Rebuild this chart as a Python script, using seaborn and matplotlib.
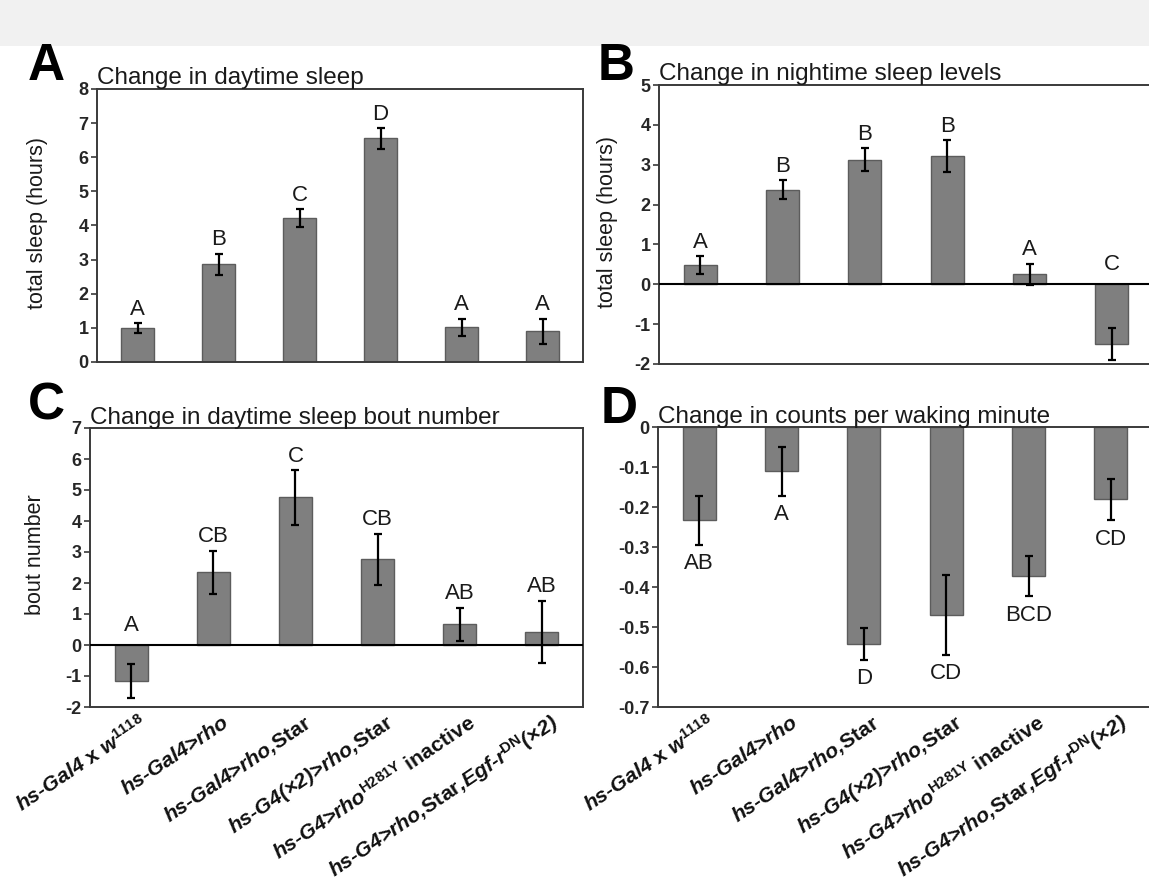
import matplotlib
matplotlib.use("Agg")
import matplotlib.pyplot as plt
import matplotlib.transforms as mtransforms
from matplotlib.patches import Rectangle
import seaborn as sns
import pandas as pd

# ---- data -------------------------------------------------------------
genotypes = [
    "hs-Gal4 x w1118",
    "hs-Gal4>rho",
    "hs-Gal4>rho,Star",
    "hs-G4(x2)>rho,Star",
    "hs-G4>rhoH281Y inactive",
    "hs-G4>rho,Star,Egf-rDN(x2)",
]
tick_labels = [
    r"hs-Gal4 $\mathrm{x}$ w$^{\mathit{1118}}$",
    r"hs-Gal4>rho",
    r"hs-Gal4>rho,$\mathrm{Star}$",
    r"hs-G4(×2)>rho,$\mathrm{Star}$",
    r"hs-G4>rho$^{\mathrm{H281Y}}$ $\mathrm{inactive}$",
    r"hs-G4>rho,$\mathrm{Star}$,Egf-r$^{\mathrm{DN}}$(×2)",
]

day_sleep = [1.00, 2.86, 4.22, 6.55, 1.02, 0.90]
day_sleep_err = [0.14, 0.31, 0.25, 0.30, 0.25, 0.37]
day_sleep_groups = ["A", "B", "C", "D", "A", "A"]

night_sleep = [0.48, 2.37, 3.13, 3.21, 0.25, -1.50]
night_sleep_err = [0.23, 0.24, 0.28, 0.40, 0.27, 0.40]
night_sleep_groups = ["A", "B", "B", "B", "A", "C"]

bout_number = [-1.16, 2.34, 4.76, 2.77, 0.67, 0.43]
bout_number_err = [0.54, 0.70, 0.89, 0.82, 0.53, 1.00]
bout_number_groups = ["A", "CB", "C", "CB", "AB", "AB"]

waking_counts = [-0.233, -0.111, -0.542, -0.470, -0.373, -0.181]
waking_counts_err = [0.061, 0.061, 0.040, 0.100, 0.050, 0.052]
waking_counts_groups = ["AB", "A", "D", "CD", "BCD", "CD"]

# ---- style ------------------------------------------------------------
sns.set_theme(style="white")
plt.rcParams["font.family"] = ["Liberation Sans", "DejaVu Sans"]
plt.rcParams["axes.unicode_minus"] = False
plt.rcParams["mathtext.fontset"] = "custom"
plt.rcParams["mathtext.rm"] = "Liberation Sans:bold"
plt.rcParams["mathtext.it"] = "Liberation Sans:italic:bold"
plt.rcParams["mathtext.bf"] = "Liberation Sans:bold"

BAR_COLOR = "#7f7f7f"
EDGE_COLOR = "#5c5c5c"
FRAME_COLOR = "#3a3a3a"
TEXT_COLOR = "#1a1a1a"

W, H = 1149, 882
fig = plt.figure(figsize=(W / 100, H / 100), dpi=100)
fig.patch.set_facecolor("white")
fig.patches.append(Rectangle((0, 1 - 46 / H), 1, 46 / H, transform=fig.transFigure,
                             facecolor="#f1f1f1", edgecolor="none", zorder=0))


def px_axes(left, top, right, bottom):
    return fig.add_axes([left / W, 1 - bottom / H, (right - left) / W, (bottom - top) / H])


def fmt_tick(t):
    t = round(t, 2) + 0.0
    return "0" if t == 0 else f"{t:g}"


def panel(ax, values, errors, groups, ylim, yticks, title, ylabel=None,
          ylabel_xy=(-0.1, 0.5), labels_below=False, show_xlabels=False, zero_line=False):
    df = pd.DataFrame({"genotype": genotypes, "value": values})
    sns.barplot(data=df, x="genotype", y="value", ax=ax, width=0.4, color=BAR_COLOR,
                saturation=1, edgecolor=EDGE_COLOR, linewidth=1.0, errorbar=None, zorder=2)
    xs = list(range(len(values)))
    ax.errorbar(xs, values, yerr=errors, fmt="none", ecolor="black",
                elinewidth=1.6, capsize=2.6, capthick=1.6, zorder=4)
    ax.set_xlim(-0.5, len(values) - 0.5)
    ax.set_ylim(*ylim)
    ax.set_yticks(yticks)
    ax.set_yticklabels([fmt_tick(t) for t in yticks], fontsize=13, fontweight="bold")
    ax.tick_params(axis="y", direction="out", length=4, width=1.2, pad=2,
                   color=FRAME_COLOR, left=True)
    ax.tick_params(axis="x", length=0)
    for s in ax.spines.values():
        s.set_visible(True)
        s.set_color(FRAME_COLOR)
        s.set_linewidth(1.4)
    if zero_line:
        ax.axhline(0, color="black", linewidth=1.5, zorder=3)
    ax.set_title(title, loc="left", fontsize=17.5, pad=3, color=TEXT_COLOR)
    ax.set_xlabel("")
    if ylabel:
        ax.set_ylabel(ylabel, fontsize=15.5, color=TEXT_COLOR)
        ax.yaxis.set_label_coords(*ylabel_xy)
    else:
        ax.set_ylabel("")
    for i, (v, e, g) in enumerate(zip(values, errors, groups)):
        if labels_below:
            ax.annotate(g, xy=(i, v - e), xytext=(0, -6), textcoords="offset points",
                        ha="center", va="top", fontsize=16, color=TEXT_COLOR)
        else:
            top = v + e
            off = 6 if top > 0 else 10
            ax.annotate(g, xy=(i, max(top, 0)), xytext=(0, off), textcoords="offset points",
                        ha="center", va="baseline", fontsize=16, color=TEXT_COLOR)
    if show_xlabels:
        ax.set_xticks(xs)
        ax.set_xticklabels(tick_labels, rotation=34, ha="right", va="center",
                           rotation_mode="anchor", fontsize=15.3, fontweight="bold",
                           fontstyle="italic", color="#111111")
        shift = mtransforms.ScaledTranslation(14 / 100, -9 / 100, fig.dpi_scale_trans)
        for lab in ax.get_xticklabels():
            lab.set_transform(lab.get_transform() + shift)
    else:
        ax.set_xticklabels([])


ax_a = px_axes(97, 89, 583, 362)
panel(ax_a, day_sleep, day_sleep_err, day_sleep_groups, (0, 8), list(range(0, 9)),
      "Change in daytime sleep", "total sleep (hours)", ylabel_xy=(-0.10, 0.51))

ax_b = px_axes(659, 85, 1153, 364)
panel(ax_b, night_sleep, night_sleep_err, night_sleep_groups, (-2, 5), list(range(-2, 6)),
      "Change in nightime sleep levels", "total sleep (hours)", ylabel_xy=(-0.083, 0.51),
      zero_line=True)

ax_c = px_axes(90, 428, 583, 707)
panel(ax_c, bout_number, bout_number_err, bout_number_groups, (-2, 7), list(range(-2, 8)),
      "Change in daytime sleep bout number", "bout number", ylabel_xy=(-0.089, 0.545),
      show_xlabels=True, zero_line=True)

ax_d = px_axes(658, 427, 1152, 707)
panel(ax_d, waking_counts, waking_counts_err, waking_counts_groups, (-0.7, 0),
      [-0.1 * k for k in range(8)], "Change in counts per waking minute",
      labels_below=True, show_xlabels=True)

# panel letters
for letter, x, y in [("A", 28, 80), ("B", 598, 80), ("C", 28, 420), ("D", 601, 423)]:
    fig.text(x / W, 1 - y / H, letter, fontsize=37, fontweight="bold", va="baseline",
             ha="left", color="black")

fig.savefig("out.png", dpi=100)
